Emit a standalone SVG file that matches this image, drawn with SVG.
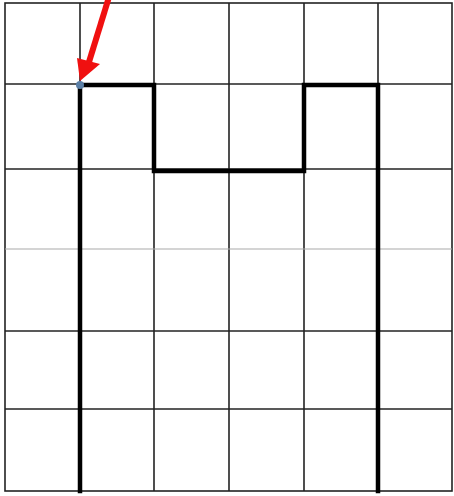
<svg xmlns="http://www.w3.org/2000/svg" width="454" height="496" viewBox="0 0 454 496">
<style>
.grid{stroke:#222;stroke-width:1.6;fill:none}
.faint{stroke:#aaa;stroke-width:1.2}
.thick{stroke:#000;stroke-width:4.5;fill:none;stroke-linecap:square}
</style>
<rect width="454" height="496" fill="#fff"/>
<g id="grid">
<rect class="grid" x="5" y="3" width="447" height="488" stroke="#555"/>
<line class="grid" x1="80" y1="3" x2="80" y2="491"/>
<line class="grid" x1="154" y1="3" x2="154" y2="491"/>
<line class="grid" x1="229" y1="3" x2="229" y2="491"/>
<line class="grid" x1="304" y1="3" x2="304" y2="491"/>
<line class="grid" x1="378" y1="3" x2="378" y2="491"/>
<line class="grid" x1="5" y1="84" x2="452" y2="84"/>
<line class="grid" x1="5" y1="169" x2="452" y2="169"/>
<line class="grid faint" x1="5" y1="249" x2="452" y2="249"/>
<line class="grid" x1="5" y1="331" x2="452" y2="331"/>
<line class="grid" x1="5" y1="409" x2="452" y2="409"/>
</g>
<g id="path">
<polyline class="thick" points="80,491 80,85 154,85 154,171 304,171 304,85 378,85 378,491"/>
</g>
<g id="connectors">
<line x1="109" y1="-3" x2="89" y2="62" stroke="#f01010" stroke-width="6"/>
<polygon points="80,81 77,58 100,64" fill="#f01010"/>
</g>
<g id="point">
<circle cx="80" cy="85" r="4" fill="#5b7fa6"/>
</g>
</svg>
